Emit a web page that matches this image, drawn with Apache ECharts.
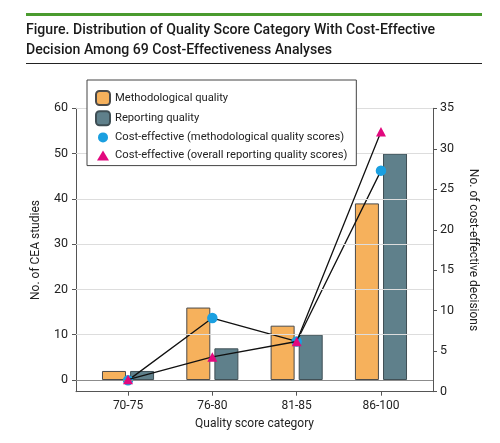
<!DOCTYPE html>
<html>
<head>
<meta charset="utf-8">
<script src="https://cdn.jsdelivr.net/npm/echarts@6/dist/echarts.min.js"></script>
<style>
html,body{margin:0;padding:0;background:#fff;}
#c{width:500px;height:443px;}
</style>
</head>
<body>
<div id="c"></div>
<script>
// ---- data ----
const categories = ['70-75', '76-80', '81-85', '86-100'];
const methodologicalQuality = [2, 16, 12, 39];
const reportingQuality = [2, 7, 10, 50];
const costEffMethodological = [1.4, 9.1, 6.2, 27.3];
const costEffReporting = [1.5, 4.3, 6.2, 32.1];
const leftTicks = [0, 10, 20, 30, 40, 50, 60];
const rightTicks = [0, 5, 10, 15, 20, 25, 30, 35];

const FONT = "Roboto, 'Noto Sans', sans-serif";
const TXT = '#222';

const pos = categories.map((c, i) => i + 1);
const pair = arr => arr.map((v, i) => [pos[i], v]);

const circleIcon = 'path://M0,0M14,14M2,7A5,5,0,1,1,12,7A5,5,0,1,1,2,7Z';
const triIcon = 'path://M0,0M14,14M7,2L13,12L1,12Z';

const chart = echarts.init(document.getElementById('c'), null, {renderer: 'canvas'});
chart.setOption({
  animation: false,
  backgroundColor: '#fff',
  textStyle: {fontFamily: FONT},
  title: {
    text: 'Figure. Distribution of Quality Score Category With Cost-Effective\nDecision Among 69 Cost-Effectiveness Analyses',
    left: 26, top: 20, padding: 0,
    textStyle: {fontFamily: FONT, fontSize: 14.1, lineHeight: 20, fontWeight: 500, color: '#1a1a1a'}
  },
  graphic: [
    {type: 'rect', left: 26, top: 13, shape: {width: 456, height: 3}, style: {fill: '#4a9b2f'}},
    {type: 'rect', left: 26, top: 63, shape: {width: 456, height: 1}, style: {fill: '#222'}}
  ],
  legend: {
    orient: 'vertical', left: 87, top: 80,
    padding: [10, 9, 3, 8], itemGap: 4.2, itemWidth: 14, itemHeight: 14,
    borderColor: '#444', borderWidth: 1, backgroundColor: '#fff',
    textStyle: {fontFamily: FONT, fontSize: 11.2, color: TXT},
    z: 10,
    data: [
      {name: 'Methodological quality'},
      {name: 'Reporting quality'},
      {name: 'Cost-effective (methodological quality scores)', icon: circleIcon, itemStyle: {borderWidth: 0}},
      {name: 'Cost-effective (overall reporting quality scores)', icon: triIcon, itemStyle: {borderWidth: 0}}
    ]
  },
  grid: {left: 76, right: 67, top: 108.3, bottom: 51.3, containLabel: false},
  xAxis: {
    type: 'value', min: 0.383, max: 4.617,
    name: 'Quality score category', nameLocation: 'middle', nameGap: 26,
    nameTextStyle: {fontFamily: FONT, fontSize: 12, color: TXT},
    axisLine: {show: true, onZero: false, lineStyle: {color: '#555', width: 1}},
    axisTick: {show: true, length: 4, customValues: pos, lineStyle: {color: '#555'}},
    axisLabel: {customValues: pos, margin: 8, fontSize: 12, color: TXT, fontFamily: FONT,
      formatter: v => categories[Math.round(v) - 1] || ''},
    splitLine: {show: false}
  },
  yAxis: [
    {
      type: 'value', min: -2.58, max: 60,
      name: 'No. of CEA studies', nameLocation: 'middle', nameGap: 34, nameRotate: 90,
      nameTextStyle: {fontFamily: FONT, fontSize: 12, color: TXT},
      axisLine: {show: true, onZero: false, lineStyle: {color: '#555'}},
      axisTick: {show: true, length: 4, customValues: leftTicks, lineStyle: {color: '#555'}},
      axisLabel: {customValues: leftTicks, margin: 8, fontSize: 12.5, color: TXT, fontFamily: FONT},
      splitLine: {show: false}
    },
    {
      type: 'value', min: 0, max: 35, interval: 5, position: 'right',
      name: 'No. of cost-effective decisions', nameLocation: 'middle', nameGap: 34, nameRotate: -90,
      nameTextStyle: {fontFamily: FONT, fontSize: 12, color: TXT},
      axisLine: {show: true, onZero: false, lineStyle: {color: '#555'}},
      axisTick: {show: true, length: 4, lineStyle: {color: '#555'}},
      axisLabel: {margin: 7, fontSize: 12.5, color: TXT, fontFamily: FONT},
      splitLine: {show: false}
    }
  ],
  series: [
    {
      name: 'Methodological quality', type: 'bar', yAxisIndex: 0,
      barWidth: 24, barGap: '17%',
      itemStyle: {color: '#F6B15C', borderColor: '#4a4a4a', borderWidth: 1},
      data: pair(methodologicalQuality),
      z: 3,
      markLine: {
        silent: true, symbol: 'none', label: {show: false}, animation: false,
        data: leftTicks.map(t => ({yAxis: t, lineStyle: {color: t === 0 ? '#8c8c8c' : '#dddddd', width: 1, type: 'solid'}}))
      }
    },
    {
      name: 'Reporting quality', type: 'bar', yAxisIndex: 0,
      barWidth: 24, barGap: '17%',
      itemStyle: {color: '#5F808B', borderColor: '#3f4f55', borderWidth: 1},
      data: pair(reportingQuality),
      z: 3
    },
    {
      name: 'Cost-effective (methodological quality scores)', type: 'line', yAxisIndex: 1,
      symbol: 'circle', symbolSize: 10.5,
      itemStyle: {color: '#1A9FE0'},
      lineStyle: {color: '#111', width: 1.3},
      data: pair(costEffMethodological),
      z: 4
    },
    {
      name: 'Cost-effective (overall reporting quality scores)', type: 'line', yAxisIndex: 1,
      symbol: 'triangle', symbolSize: [10, 9.5],
      itemStyle: {color: '#E2087E'},
      lineStyle: {color: '#111', width: 1.3},
      data: pair(costEffReporting),
      z: 5
    }
  ]
});
</script>
</body>
</html>
